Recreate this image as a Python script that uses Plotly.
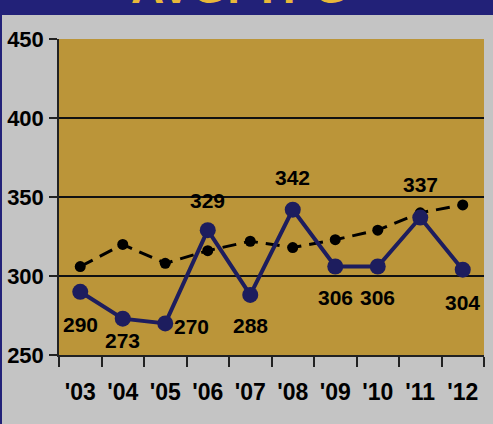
import plotly.graph_objects as go

years = ["'03", "'04", "'05", "'06", "'07", "'08", "'09", "'10", "'11", "'12"]
team_ypg = [290, 273, 270, 329, 288, 342, 306, 306, 337, 304]
avg_ypg = [306, 320, 308, 316, 322, 318, 323, 329, 340, 345]
title_text = "AVG. YPG"

# label placement (style): (xshift, yshift)
label_pos = [(0, -33), (0, -22), (26, -3), (0, 30), (0, -31),
             (0, 32), (0, -31), (0, -31), (0, 33), (0, -33)]

FONT = "Liberation Sans, Arial, sans-serif"
NAVY = "#1d1d5e"
BAND = "#222178"
GOLD = "#bb9539"
BG = "#c4c4c4"

W, H = 493, 424
ML, MR, MT, MB = 59, 9, 39, 69
PW, PH = W - ML - MR, H - MT - MB

fig = go.Figure()
fig.add_trace(go.Scatter(
    x=years, y=avg_ypg, mode="lines+markers",
    line=dict(color="black", width=3, dash="14px,8px"),
    marker=dict(color="black", size=11),
    cliponaxis=False, showlegend=False, hoverinfo="skip"))
fig.add_trace(go.Scatter(
    x=years, y=team_ypg, mode="lines+markers",
    line=dict(color=NAVY, width=4),
    marker=dict(color=NAVY, size=16),
    cliponaxis=False, showlegend=False, hoverinfo="skip"))

for yr, v, (dx, dy) in zip(years, team_ypg, label_pos):
    fig.add_annotation(x=yr, y=v, text=f"<b>{v}</b>", showarrow=False,
                       xshift=dx, yshift=dy,
                       font=dict(family=FONT, size=21, color="black"))

# top navy band and left edge
fig.add_shape(type="rect", xref="paper", yref="paper",
              x0=-ML / PW, x1=1 + MR / PW, y0=1 + (MT - 15) / PH, y1=1 + (MT + 5) / PH,
              fillcolor=BAND, line=dict(width=0), layer="below")
fig.add_shape(type="rect", xref="paper", yref="paper",
              x0=-ML / PW, x1=-(ML - 2) / PW, y0=-MB / PH, y1=1 + MT / PH,
              fillcolor=BAND, line=dict(width=0), layer="below")

fig.add_annotation(xref="paper", yref="paper", x=(240 - ML) / PW,
                   y=1 + (MT - 14.5) / PH, yanchor="bottom", showarrow=False,
                   text=f"<b>{title_text}</b>",
                   font=dict(family="Liberation Sans", size=46, color="#e8b83a"))

fig.update_layout(
    width=W, height=H,
    margin=dict(l=ML, r=MR, t=MT, b=MB, autoexpand=False),
    paper_bgcolor=BG, plot_bgcolor=GOLD,
    font=dict(family=FONT, color="black"),
    hovermode=False,
)
fig.update_xaxes(
    type="category", range=[-0.5, 9.5], tickson="boundaries",
    ticks="outside", ticklen=10, tickcolor="#222", tickwidth=1.5,
    showline=True, linecolor="#222", linewidth=1.5, showgrid=False,
    tickangle=0, automargin=False,
    tickfont=dict(family=FONT, size=23, color="black"), ticklabelstandoff=16,
)
fig.update_yaxes(
    range=[250, 450], dtick=50, ticks="outside", ticklen=8,
    tickcolor="#222", tickwidth=1.5, showline=True, linecolor="#222", linewidth=1.5,
    showgrid=True, gridcolor="#111", gridwidth=1.5, zeroline=False, automargin=False,
    tickfont=dict(family=FONT, size=22, color="black"), ticklabelstandoff=1,
)
fig.update_xaxes(tickprefix="<b>", ticksuffix="</b>")
fig.update_yaxes(tickprefix="<b>", ticksuffix="</b>")

fig.write_html("out.html", config={"displayModeBar": False},
               post_script="document.body.style.margin='0';")
